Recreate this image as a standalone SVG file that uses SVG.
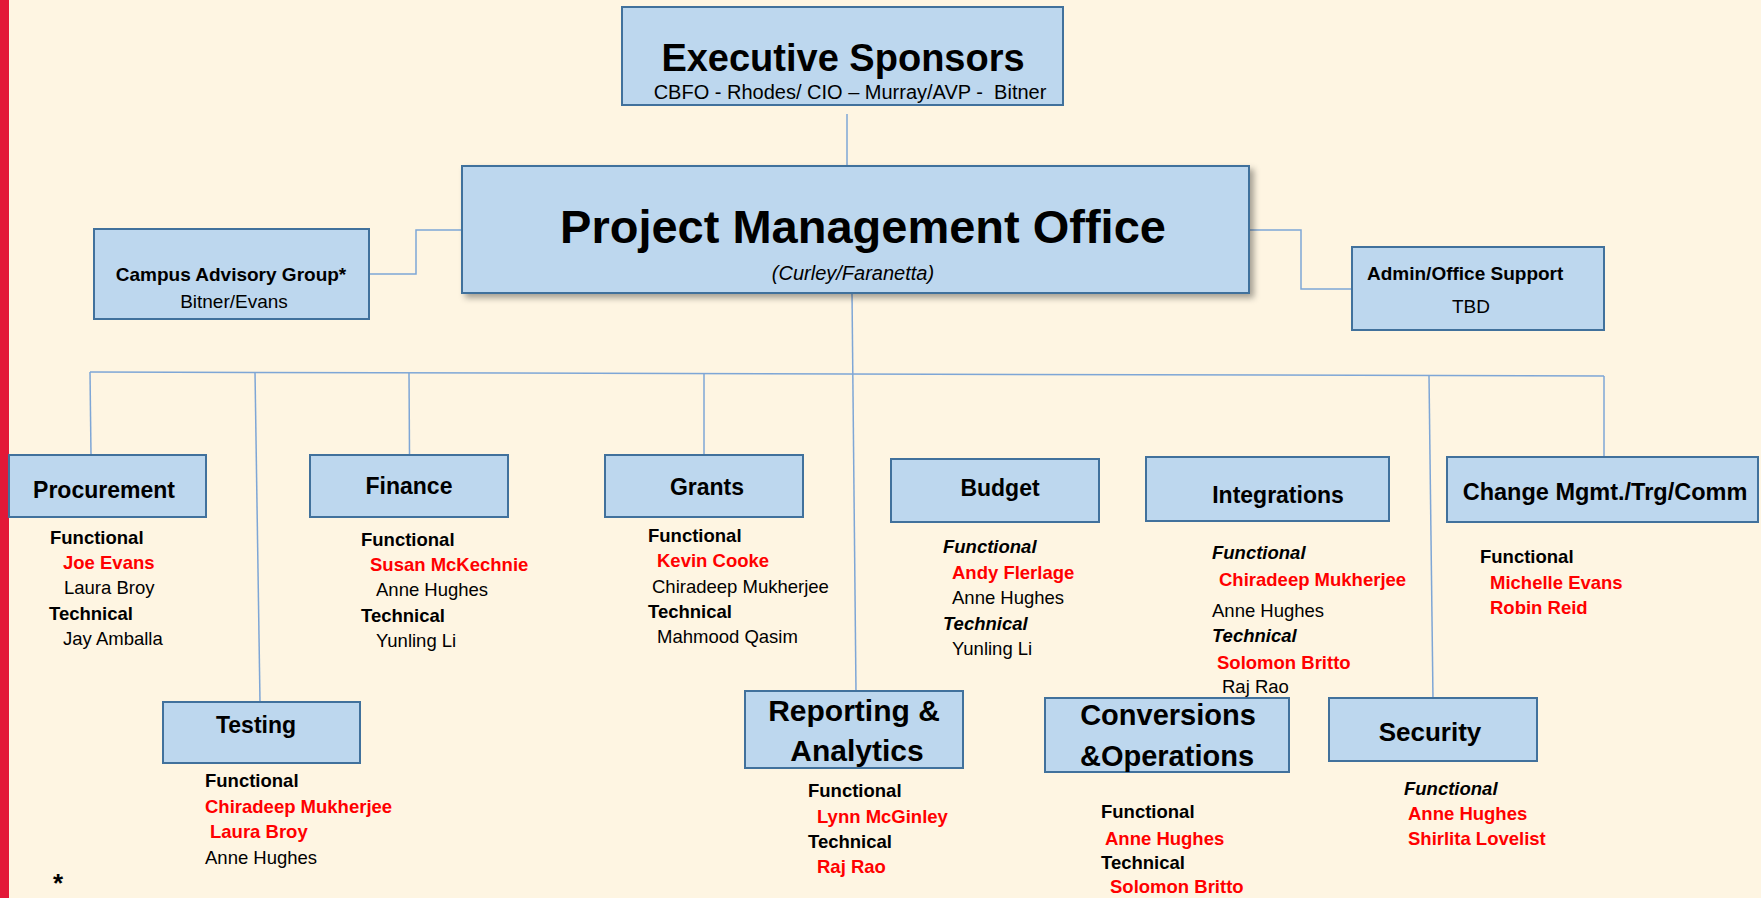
<svg xmlns="http://www.w3.org/2000/svg" width="1761" height="898" viewBox="0 0 1761 898">
<defs>
<style>
.box{fill:#BDD7EE;stroke:#41719C;stroke-width:2}
.conn{stroke:#7EA6D6;stroke-width:1.5;fill:none}
text{font-family:"Liberation Sans",Arial,sans-serif;fill:#000}
.h{font-weight:bold;text-anchor:middle}
.m{text-anchor:middle}
.d{font-size:18.5px}
.b{font-weight:bold}
.i{font-style:italic}
.r{fill:#FF0000;font-weight:bold}
</style>
<filter id="sh" x="-5%" y="-10%" width="115%" height="130%">
<feDropShadow dx="4" dy="4" stdDeviation="3" flood-color="#000" flood-opacity="0.35"/>
</filter>
</defs>
<rect x="0" y="0" width="1761" height="898" fill="#FEF5E2"/>
<rect x="0" y="0" width="9" height="898" fill="#E31837"/>

<g id="connectors">
<line class="conn" x1="847" y1="114" x2="847" y2="166"/>
<polyline class="conn" points="370,274 416,274 416,230 462,230"/>
<polyline class="conn" points="1249,230 1301,230 1301,289 1352,289"/>
<line class="conn" x1="90" y1="372" x2="1604" y2="376"/>
<line class="conn" x1="852" y1="293" x2="856" y2="691"/>
<line class="conn" x1="90" y1="372" x2="91" y2="455"/>
<line class="conn" x1="255" y1="372" x2="260" y2="702"/>
<line class="conn" x1="409" y1="373" x2="409.5" y2="455"/>
<line class="conn" x1="704" y1="374" x2="704" y2="455"/>
<line class="conn" x1="1429" y1="376" x2="1433" y2="699"/>
<line class="conn" x1="1604" y1="376" x2="1604" y2="457"/>
</g>

<g id="exec">
<rect class="box" x="622" y="7" width="441" height="98"/>
<text class="h" x="843" y="71" font-size="38">Executive Sponsors</text>
<text class="m" x="850" y="99" font-size="20" xml:space="preserve">CBFO - Rhodes/ CIO – Murray/AVP -  Bitner</text>
</g>

<g id="pmo">
<rect class="box" x="462" y="166" width="787" height="127" filter="url(#sh)"/>
<text class="h" x="863" y="243" font-size="47">Project Management Office</text>
<text class="m i" x="853" y="280" font-size="20">(Curley/Faranetta)</text>
</g>

<g id="campus">
<rect class="box" x="94" y="229" width="275" height="90"/>
<text class="h" x="231" y="281" font-size="19">Campus Advisory Group*</text>
<text class="m" x="234" y="308" font-size="19">Bitner/Evans</text>
</g>

<g id="admin">
<rect class="box" x="1352" y="247" width="252" height="83"/>
<text class="b" x="1367" y="280" font-size="19">Admin/Office Support</text>
<text class="m" x="1471" y="313" font-size="19">TBD</text>
</g>

<g id="procurement">
<rect class="box" x="9" y="455" width="197" height="62"/>
<text class="h" x="104" y="498" font-size="23">Procurement</text>
<text class="d b" x="50" y="544">Functional</text>
<text class="d r" x="63" y="569">Joe Evans</text>
<text class="d" x="64" y="594">Laura Broy</text>
<text class="d b" x="49" y="620">Technical</text>
<text class="d" x="63" y="645">Jay Amballa</text>
</g>

<g id="finance">
<rect class="box" x="310" y="455" width="198" height="62"/>
<text class="h" x="409" y="494" font-size="23">Finance</text>
<text class="d b" x="361" y="546">Functional</text>
<text class="d r" x="370" y="571">Susan McKechnie</text>
<text class="d" x="376" y="596">Anne Hughes</text>
<text class="d b" x="361" y="622">Technical</text>
<text class="d" x="376" y="647">Yunling Li</text>
</g>

<g id="grants">
<rect class="box" x="605" y="455" width="198" height="62"/>
<text class="h" x="707" y="495" font-size="23">Grants</text>
<text class="d b" x="648" y="542">Functional</text>
<text class="d r" x="657" y="567">Kevin Cooke</text>
<text class="d" x="652" y="593">Chiradeep Mukherjee</text>
<text class="d b" x="648" y="618">Technical</text>
<text class="d" x="657" y="643">Mahmood Qasim</text>
</g>

<g id="budget">
<rect class="box" x="891" y="459" width="208" height="63"/>
<text class="h" x="1000" y="496" font-size="23">Budget</text>
<text class="d b i" x="943" y="553">Functional</text>
<text class="d r" x="952" y="579">Andy Flerlage</text>
<text class="d" x="952" y="604">Anne Hughes</text>
<text class="d b i" x="943" y="630">Technical</text>
<text class="d" x="952" y="655">Yunling Li</text>
</g>

<g id="integrations">
<rect class="box" x="1146" y="457" width="243" height="64"/>
<text class="h" x="1278" y="503" font-size="23">Integrations</text>
<text class="d b i" x="1212" y="559">Functional</text>
<text class="d r" x="1219" y="586">Chiradeep Mukherjee</text>
<text class="d" x="1212" y="617">Anne Hughes</text>
<text class="d b i" x="1212" y="642">Technical</text>
<text class="d r" x="1217" y="669">Solomon Britto</text>
<text class="d" x="1222" y="693">Raj Rao</text>
</g>

<g id="change">
<rect class="box" x="1447" y="457" width="311" height="65"/>
<text class="h" x="1605" y="500" font-size="23.5">Change Mgmt./Trg/Comm</text>
<text class="d b" x="1480" y="563">Functional</text>
<text class="d r" x="1490" y="589">Michelle Evans</text>
<text class="d r" x="1490" y="614">Robin Reid</text>
</g>

<g id="testing">
<rect class="box" x="163" y="702" width="197" height="61"/>
<text class="h" x="256" y="733" font-size="23">Testing</text>
<text class="d b" x="205" y="787">Functional</text>
<text class="d r" x="205" y="813">Chiradeep Mukherjee</text>
<text class="d r" x="210" y="838">Laura Broy</text>
<text class="d" x="205" y="864">Anne Hughes</text>
</g>

<g id="reporting">
<rect class="box" x="745" y="691" width="218" height="77"/>
<text class="h" x="854" y="721" font-size="30">Reporting &amp;</text>
<text class="h" x="857" y="761" font-size="30">Analytics</text>
<text class="d b" x="808" y="797">Functional</text>
<text class="d r" x="817" y="823">Lynn McGinley</text>
<text class="d b" x="808" y="848">Technical</text>
<text class="d r" x="817" y="873">Raj Rao</text>
</g>

<g id="conversions">
<rect class="box" x="1045" y="698" width="244" height="74"/>
<text class="h" x="1168" y="725" font-size="29">Conversions</text>
<text class="h" x="1167" y="766" font-size="29">&amp;Operations</text>
<text class="d b" x="1101" y="818">Functional</text>
<text class="d r" x="1105" y="845">Anne Hughes</text>
<text class="d b" x="1101" y="869">Technical</text>
<text class="d r" x="1110" y="893">Solomon Britto</text>
</g>

<g id="security">
<rect class="box" x="1329" y="698" width="208" height="63"/>
<text class="h" x="1430" y="741" font-size="26">Security</text>
<text class="d b i" x="1404" y="795">Functional</text>
<text class="d r" x="1408" y="820">Anne Hughes</text>
<text class="d r" x="1408" y="845">Shirlita Lovelist</text>
</g>

<text x="53" y="892" font-size="26" font-weight="bold">*</text>
</svg>
